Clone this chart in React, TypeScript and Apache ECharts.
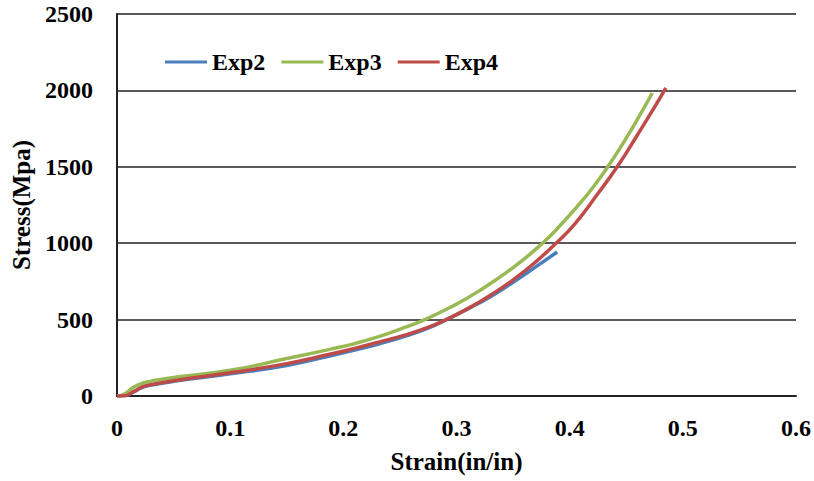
import React, { useEffect, useRef } from "react";
import * as echarts from "echarts";

const exp2Strain = [0, 0.007, 0.015, 0.023, 0.032, 0.05, 0.1, 0.15, 0.188, 0.21, 0.232, 0.255, 0.276, 0.291, 0.31, 0.33, 0.35, 0.37, 0.389];
const exp2Stress = [0, 3, 28, 58, 74, 96, 145, 200, 262, 300, 342, 392, 448, 500, 570, 650, 745, 845, 942];

const exp3Strain = [0, 0.007, 0.014, 0.023, 0.03, 0.044, 0.1, 0.15, 0.188, 0.21, 0.232, 0.252, 0.272, 0.295, 0.32, 0.35, 0.376, 0.392, 0.409, 0.42, 0.433, 0.447, 0.461, 0.473];
const exp3Stress = [0, 15, 55, 85, 97, 115, 168, 245, 305, 343, 390, 442, 500, 582, 688, 840, 1000, 1119, 1260, 1360, 1492, 1652, 1825, 1983];

const exp4Strain = [0, 0.007, 0.015, 0.023, 0.032, 0.05, 0.103, 0.15, 0.188, 0.21, 0.232, 0.255, 0.276, 0.291, 0.31, 0.33, 0.35, 0.37, 0.388, 0.405, 0.425, 0.442, 0.46, 0.475, 0.485];
const exp4Stress = [0, 2, 30, 61, 76, 100, 155, 212, 273, 312, 354, 400, 452, 500, 572, 660, 760, 878, 1000, 1130, 1325, 1500, 1710, 1890, 2016];

const seriesNames = ["Exp2", "Exp3", "Exp4"];
const seriesColors = ["#4a7ebb", "#98b954", "#be4b48"];

const zip = (xs: number[], ys: number[]) => xs.map((x, i) => [x, ys[i]]);

export default function App() {
  const ref = useRef<HTMLDivElement>(null);
  useEffect(() => {
    if (!ref.current) return;
    const chart = echarts.init(ref.current, null, { renderer: "svg" });
    const font = "'Liberation Serif', 'Times New Roman', serif";
    const datas = [zip(exp2Strain, exp2Stress), zip(exp3Strain, exp3Stress), zip(exp4Strain, exp4Stress)];
    chart.setOption({
      animation: false,
      backgroundColor: "#ffffff",
      grid: { left: 117, right: 17, top: 14, bottom: 85 },
      legend: {
        left: 165,
        top: 50,
        padding: 0,
        itemWidth: 42,
        itemHeight: 3,
        itemGap: 16,
        icon: "rect",
        textStyle: { fontFamily: font, fontWeight: "bold", fontSize: 24, color: "#000" },
        data: seriesNames,
      },
      xAxis: {
        type: "value",
        min: 0,
        max: 0.6,
        interval: 0.1,
        name: "Strain(in/in)",
        nameLocation: "middle",
        nameGap: 53,
        nameTextStyle: { fontFamily: font, fontWeight: "bold", fontSize: 25, color: "#000" },
        axisLine: { show: true, lineStyle: { color: "#222", width: 2 } },
        axisTick: { show: false },
        splitLine: { show: false },
        axisLabel: { margin: 20, fontFamily: font, fontWeight: "bold", fontSize: 24, color: "#000" },
      },
      yAxis: {
        type: "value",
        min: 0,
        max: 2500,
        interval: 500,
        name: "Stress(Mpa)",
        nameLocation: "middle",
        nameGap: 76,
        nameTextStyle: { fontFamily: font, fontWeight: "bold", fontSize: 25, color: "#000" },
        axisLine: { show: true, lineStyle: { color: "#222", width: 2 } },
        axisTick: { show: false },
        splitLine: { show: true, lineStyle: { color: "#222", width: 1.5 } },
        axisLabel: {
          margin: 24,
          fontFamily: font,
          fontWeight: "bold",
          fontSize: 24,
          color: "#000",
          formatter: (v: number) => String(v),
        },
      },
      series: datas.map((d, i) => ({
        name: seriesNames[i],
        type: "line",
        data: d,
        smooth: 0.5,
        showSymbol: false,
        symbol: "none",
        z: 3 + i,
        lineStyle: { color: seriesColors[i], width: 3.5 },
        itemStyle: { color: seriesColors[i] },
      })),
    });
    return () => chart.dispose();
  }, []);
  return <div ref={ref} style={{ position: "absolute", left: 0, top: 0, width: 814, height: 481 }} />;
}
